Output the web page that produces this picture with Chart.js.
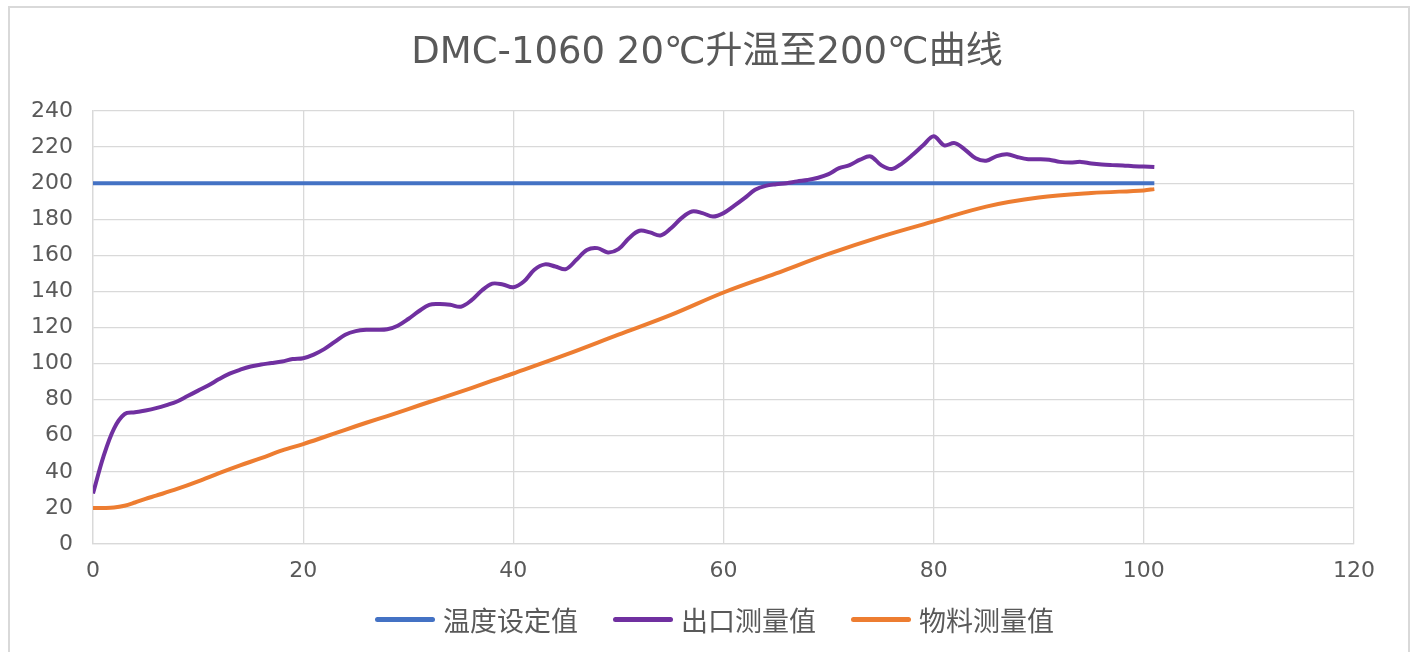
<!DOCTYPE html>
<html><head><meta charset="utf-8">
<script src="https://cdn.jsdelivr.net/npm/chart.js@4.4.1/dist/chart.umd.min.js"></script>
<style>
html,body{margin:0;padding:0;background:#fff;overflow:hidden}
#wrap{position:relative;width:1414px;height:652px;overflow:hidden}
#frame{position:absolute;left:8px;top:6px;width:1402px;height:670px;border:2px solid #d9d9d9;box-sizing:border-box;pointer-events:none}
#c{position:absolute;left:0;top:0}
#legend{position:absolute;left:375px;top:602px;height:36px;display:flex;align-items:center;font-family:"Noto Sans CJK SC",sans-serif;font-size:27px;line-height:36px;color:#595959;white-space:nowrap}
#legend .item{display:flex;align-items:center;margin-right:35px}
#legend .swatch{display:inline-block;width:60px;height:5px;border-radius:2.5px;margin-right:8px;margin-top:-2px}
</style></head>
<body>
<div id="wrap">
<canvas id="c" width="1414" height="652"></canvas>
<div id="frame"></div>
<div id="legend"></div>
</div>
<script>
const chartTitle = "DMC-1060 20℃升温至200℃曲线";
const seriesNames = ["温度设定值", "出口测量值", "物料测量值"];
const seriesColors = ["#4472C4", "#7030A0", "#ED7D31"];

const setpointX = [0, 101];
const setpointY = [200, 200];

const outletX = [0,1,2,3,4,5,6,7,8,9,10,11,12,13,14,15,16,17,18,19,20,21,22,23,24,25,26,27,28,29,30,31,32,33,34,35,36,37,38,39,40,41,42,43,44,45,46,47,48,49,50,51,52,53,54,55,56,57,58,59,60,61,62,63,64,65,66,67,68,69,70,71,72,73,74,75,76,77,78,79,80,81,82,83,84,85,86,87,88,89,90,91,92,93,94,95,96,97,98,99,100,101];
const outletY = [28,48.6,64,72,73,74,75.3,77,79,82,85,88,91.4,94.4,96.6,98.4,99.5,100.3,101.2,102.5,103,105,108,112,116,118,118.7,118.7,119,121,124.7,129,132.6,133,132.6,131.5,135,140.5,144.3,143.8,142.3,145.5,152,155,153.8,152.4,157.5,163,164,161.6,163.4,169.5,173.6,172.7,171,175,180.6,184.3,183.4,181.5,183.4,187.4,191.7,196.3,198.5,199.4,200,201,201.8,203,205,208.3,210,213,214.8,210,207.8,211,215.7,221,226,221,222.2,218.5,213.8,212.4,215,216,214.4,213.3,213.3,213,211.8,211.4,211.8,210.9,210.3,210,209.8,209.4,209.2,208.9];

const materialX = [0,1,2,3,4,5,6,8,10,12,14,16,18,20,22,24,26,28,30,32,34,36,38,40,45,50,55,60,65,70,75,80,85,90,95,100,101];
const materialY = [20,20,20.2,21.2,23,25,26.8,30.5,34.7,39.3,43.6,47.6,51.9,55.4,59.3,63.3,67.2,70.9,74.8,78.7,82.5,86.4,90.5,94.5,104.9,116,127,139.4,150,160.8,170.4,178.8,187,192,194.5,196,196.7];

const xTicks = [0, 20, 40, 60, 80, 100, 120];
const yTicks = [0, 20, 40, 60, 80, 100, 120, 140, 160, 180, 200, 220, 240];

function pts(xs, ys) { return xs.map((x, i) => ({ x: x, y: ys[i] })); }

const gridColor = "#d9d9d9";
const textColor = "#595959";
const tickFont = { family: "'DejaVu Sans', sans-serif", size: 22 };

const chart = new Chart(document.getElementById("c"), {
  type: "line",
  data: {
    datasets: [
      { label: seriesNames[0], data: pts(setpointX, setpointY), borderColor: seriesColors[0], backgroundColor: seriesColors[0], borderWidth: 4, pointRadius: 0, tension: 0, order: 3 },
      { label: seriesNames[1], data: pts(outletX, outletY), borderColor: seriesColors[1], backgroundColor: seriesColors[1], borderWidth: 4, pointRadius: 0, tension: 0.35, order: 2 },
      { label: seriesNames[2], data: pts(materialX, materialY), borderColor: seriesColors[2], backgroundColor: seriesColors[2], borderWidth: 4, pointRadius: 0, tension: 0.35, order: 1 }
    ]
  },
  options: {
    responsive: false,
    animation: false,
    events: [],
    layout: { padding: { left: 0, right: 0, top: 0, bottom: 63 } },
    plugins: {
      legend: { display: false },
      tooltip: { enabled: false },
      title: {
        display: true,
        text: chartTitle,
        color: textColor,
        font: { family: "'DejaVu Sans', 'Noto Sans CJK SC', sans-serif", size: 37, weight: "normal", lineHeight: 1.2 },
        padding: { top: 31, bottom: 35.6 }
      }
    },
    scales: {
      x: {
        type: "linear",
        min: xTicks[0],
        max: xTicks[xTicks.length - 1],
        afterBuildTicks: s => { s.ticks = xTicks.map(v => ({ value: v })); },
        afterFit: s => { s.height = 45; },
        ticks: { color: textColor, font: tickFont, padding: 14, maxRotation: 0 },
        grid: { color: gridColor, lineWidth: 1.3, drawTicks: false },
        border: { color: gridColor, width: 1.3 }
      },
      y: {
        min: yTicks[0],
        max: yTicks[yTicks.length - 1],
        afterBuildTicks: s => { s.ticks = yTicks.map(v => ({ value: v })); },
        afterFit: s => { s.width = 93; },
        ticks: { color: textColor, font: tickFont, padding: 20 },
        grid: { color: gridColor, lineWidth: 1.3, drawTicks: false },
        border: { color: gridColor, width: 1.3 }
      },
      yRight: {
        position: "right",
        min: 0,
        max: 1,
        afterFit: s => { s.width = 60; },
        ticks: { display: false },
        grid: { display: false, drawTicks: false },
        border: { display: false }
      }
    }
  }
});

const legendEl = document.getElementById("legend");
chart.data.datasets.forEach(ds => {
  const item = document.createElement("span");
  item.className = "item";
  const sw = document.createElement("span");
  sw.className = "swatch";
  sw.style.background = ds.borderColor;
  const tx = document.createElement("span");
  tx.textContent = ds.label;
  item.appendChild(sw);
  item.appendChild(tx);
  legendEl.appendChild(item);
});
</script>
</body></html>
